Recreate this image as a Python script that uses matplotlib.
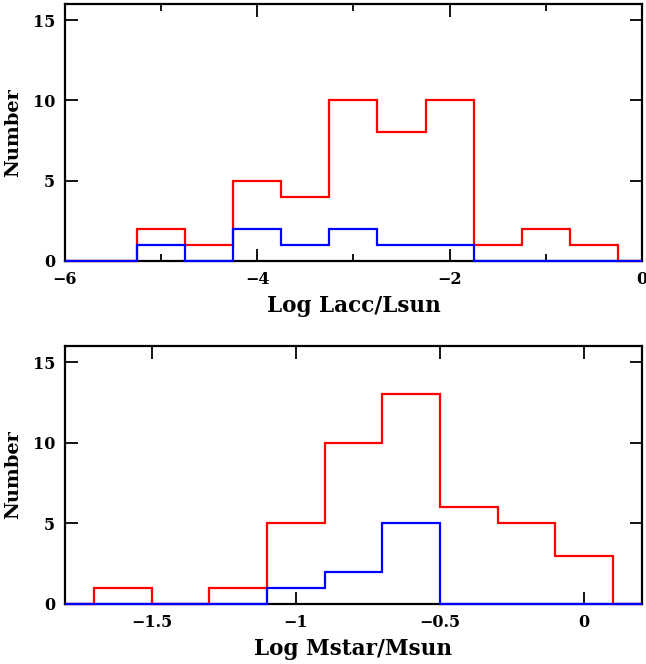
import numpy as np
import matplotlib
matplotlib.use("Agg")
import matplotlib.pyplot as plt

# top panel: log accretion luminosity, bins of 0.5 dex
lacc_edges = [-6.0, -5.25, -4.75, -4.25, -3.75, -3.25, -2.75, -2.25, -1.75, -1.25, -0.75, -0.25, 0.0]
lacc_red = [0, 2, 1, 5, 4, 10, 8, 10, 1, 2, 1, 0]
lacc_blue = [0, 1, 0, 2, 1, 2, 1, 1, 0, 0, 0, 0]

# bottom panel: log stellar mass, bins of 0.2 dex
mstar_edges = [-1.8, -1.7, -1.5, -1.3, -1.1, -0.9, -0.7, -0.5, -0.3, -0.1, 0.1, 0.2]
mstar_red = [0, 1, 0, 1, 5, 10, 13, 6, 5, 3, 0]
mstar_blue = [0, 0, 0, 0, 1, 2, 5, 0, 0, 0, 0]

plt.rcParams['font.family'] = ['DejaVu Serif']
plt.rcParams['font.weight'] = 'bold'

fig = plt.figure(figsize=(6.46, 6.64), dpi=100)
ax1 = fig.add_axes([0.1006, 0.607, 0.893, 0.387])
ax2 = fig.add_axes([0.1006, 0.0904, 0.893, 0.3886])


def style(ax, xlim, xticks, xlabels, xlabel, minor=None):
    ax.set_xlim(*xlim)
    ax.set_ylim(0, 16)
    ax.set_xticks(xticks)
    ax.set_xticklabels(xlabels, fontsize=11.5, fontweight="bold")
    if minor is not None:
        ax.set_xticks(minor, minor=True)
    ax.set_yticks([0, 5, 10, 15])
    ax.set_yticklabels(["0", "5", "10", "15"], fontsize=11.5, fontweight="bold")
    ax.tick_params(which="major", direction="in", length=9, width=1.3,
                   top=True, right=True, pad=7)
    ax.tick_params(which="minor", direction="in", length=5, width=1.3,
                   top=True, right=True)
    for s in ax.spines.values():
        s.set_linewidth(1.6)
    ax.set_xlabel(xlabel, fontsize=15.5, labelpad=5, fontweight="bold")
    ax.set_ylabel("Number", fontsize=14, labelpad=8, fontweight="bold")


ax1.stairs(lacc_red, lacc_edges, baseline=None, color="red", lw=1.6, zorder=3, clip_on=False)
ax1.stairs(lacc_blue, lacc_edges, baseline=None, color="blue", lw=1.6, zorder=4, clip_on=False)
style(ax1, (-6, 0), [-6, -4, -2, 0], ["\u22126", "\u22124", "\u22122", "0"],
      "Log Lacc/Lsun", minor=[-5, -3, -1])

ax2.stairs(mstar_red, mstar_edges, baseline=None, color="red", lw=1.6, zorder=3, clip_on=False)
ax2.stairs(mstar_blue, mstar_edges, baseline=None, color="blue", lw=1.6, zorder=4, clip_on=False)
style(ax2, (-1.8, 0.2), [-1.5, -1, -0.5, 0], ["\u22121.5", "\u22121", "\u22120.5", "0"],
      "Log Mstar/Msun")

fig.savefig("out.png", dpi=100)
